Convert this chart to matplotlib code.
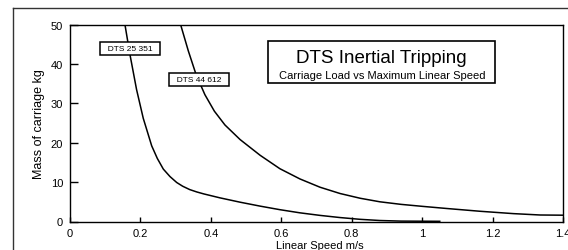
import matplotlib
matplotlib.use("Agg")
import matplotlib.pyplot as plt
from matplotlib.patches import Rectangle
from matplotlib.lines import Line2D

plt.rcParams['font.family'] = ['Liberation Sans', 'DejaVu Sans']

# Data
speed_25351 = [0.156, 0.170, 0.189, 0.208, 0.232, 0.248, 0.265, 0.284, 0.303, 0.320,
               0.340, 0.360, 0.380, 0.426, 0.483, 0.540, 0.596, 0.653, 0.710, 0.767,
               0.824, 0.880, 0.94, 1.05]
mass_25351 = [50, 42.5, 33.5, 26.2, 19.2, 16.0, 13.3, 11.4, 9.9, 8.95,
              8.1, 7.5, 7.0, 6.0, 4.9, 3.9, 3.0, 2.2, 1.55, 1.0,
              0.55, 0.25, 0.1, 0.05]

speed_44612 = [0.314, 0.336, 0.358, 0.383, 0.41, 0.44, 0.483, 0.540, 0.596, 0.653,
               0.710, 0.767, 0.824, 0.880, 0.94, 1.0, 1.07, 1.164, 1.259, 1.335, 1.40]
mass_44612 = [50, 43.3, 37.3, 32.2, 28.0, 24.5, 20.8, 16.8, 13.4, 10.8,
              8.7, 7.1, 5.9, 5.0, 4.35, 3.85, 3.3, 2.6, 2.0, 1.65, 1.6]

x_ticks = [0, 0.2, 0.4, 0.6, 0.8, 1, 1.2, 1.4]
x_tick_labels = ['0', '0.2', '0.4', '0.6', '0.8', '1', '1.2', '1.4']
y_ticks = [0, 10, 20, 30, 40, 50]

W, H = 568, 251
fig = plt.figure(figsize=(W / 100, H / 100), dpi=100)
ax_l, ax_r, ax_t, ax_b = 70, 563, 25.5, 222.5
ax = fig.add_axes([ax_l / W, 1 - ax_b / H, (ax_r - ax_l) / W, (ax_b - ax_t) / H])

# outer frame (partially visible)
fx, fy = 13 / W, 1 - 9 / H
fig.add_artist(Line2D([fx, fx], [0, fy], transform=fig.transFigure, color='#333333', lw=1.0))
fig.add_artist(Line2D([fx, 1], [fy, fy], transform=fig.transFigure, color='#333333', lw=1.0))

ax.plot(speed_25351, mass_25351, color='black', lw=1.1, solid_joinstyle='round')
ax.plot(speed_44612, mass_44612, color='black', lw=1.1, solid_joinstyle='round')

ax.set_xlim(0, 1.4)
ax.set_ylim(0, 50)
ax.set_xticks(x_ticks)
ax.set_xticklabels(x_tick_labels)
ax.set_yticks(y_ticks)
ax.tick_params(axis='x', direction='in', length=3.3, width=1.0, labelsize=8, pad=5, colors='black')
ax.tick_params(axis='y', direction='in', length=6, width=1.0, labelsize=8, pad=5, colors='black')
for s in ax.spines.values():
    s.set_linewidth(1.0)

ax.set_xlabel('Linear Speed m/s', fontsize=8, va='center')
ax.xaxis.set_label_coords((320 - ax_l) / (ax_r - ax_l), (ax_b - 246) / (ax_b - ax_t))
ax.set_ylabel('Mass of carriage kg', fontsize=9, va='center')
ax.yaxis.set_label_coords((38.8 - ax_l) / (ax_r - ax_l), 0.5)

def to_ax(px, py):
    return (px - ax_l) / (ax_r - ax_l), (ax_b - py) / (ax_b - ax_t)

box = dict(boxstyle='square,pad=0.35', fc='white', ec='black', lw=1.1)
x1, y1 = to_ax(129.7, 49.7)
ax.text(x1, y1, '  DTS 25 351  ', transform=ax.transAxes, fontsize=6, ha='center', va='center', bbox=box)
x2, y2 = to_ax(199, 80.3)
ax.text(x2, y2, '  DTS 44 612  ', transform=ax.transAxes, fontsize=6, ha='center', va='center', bbox=box)

# title box
bx0, by1 = to_ax(268, 42)
bx1, by0 = to_ax(495, 84)
ax.add_patch(Rectangle((bx0, by0), bx1 - bx0, by1 - by0, transform=ax.transAxes,
                       fill=True, fc='white', ec='black', lw=1.2, zorder=3))
tx, ty = to_ax(381, 63.3)
ax.text(tx, ty, 'DTS Inertial Tripping', transform=ax.transAxes, fontsize=13.5,
        ha='center', va='baseline', zorder=4)
sx, sy = to_ax(382.5, 79)
ax.text(sx, sy, 'Carriage Load vs Maximum Linear Speed', transform=ax.transAxes, fontsize=8,
        ha='center', va='baseline', zorder=4)

fig.savefig('out.png', dpi=100)
